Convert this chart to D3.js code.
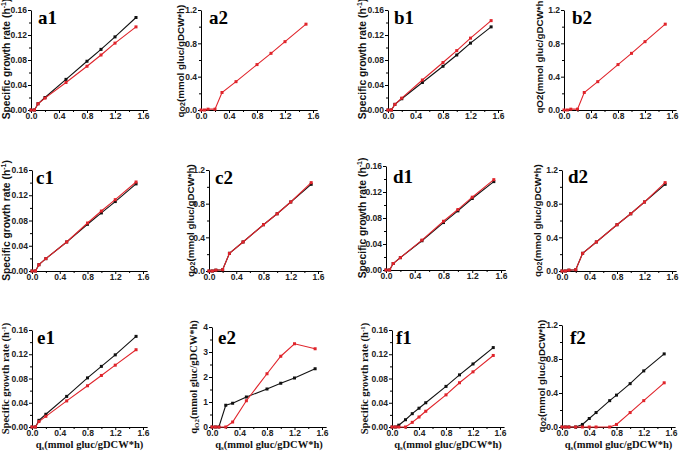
<!DOCTYPE html>
<html><head><meta charset="utf-8">
<script src="https://cdn.jsdelivr.net/npm/d3@7"></script>
<style>
body{margin:0;background:#fff;}
svg{display:block;}
</style></head>
<body>
<svg id="chart" width="685" height="456"></svg>
<script>
// ---------- data ----------
const xTicks = [0, 0.4, 0.8, 1.2, 1.6];
const muTicks = [0, 0.04, 0.08, 0.12, 0.16];
const qTicks = [0, 0.4, 0.8, 1.2];
const qTicksE2 = [0, 1, 2, 3, 4];

const xMu = [0, 0.05, 0.1, 0.2, 0.5, 0.8, 1.0, 1.2, 1.5];
const xQ = [0, 0.05, 0.1, 0.2, 0.3, 0.5, 0.8, 1.0, 1.2, 1.5];
const xF1 = [0, 0.05, 0.1, 0.2, 0.3, 0.4, 0.5, 0.8, 1.0, 1.2, 1.5];
const xF2 = [0, 0.05, 0.1, 0.2, 0.3, 0.4, 0.5, 0.7, 0.8, 1.0, 1.2, 1.5];

const a1Black = [0, 0, 0.010, 0.020, 0.049, 0.078, 0.097, 0.117, 0.148];
const a1Red   = [0, 0, 0.010, 0.019, 0.044, 0.070, 0.088, 0.107, 0.133];
const a2Red   = [0, 0, 0.01, 0.01, 0.21, 0.34, 0.545, 0.68, 0.82, 1.03];
const b1Black = [0, 0, 0.009, 0.018, 0.044, 0.070, 0.088, 0.107, 0.133];
const b1Red   = [0, 0, 0.009, 0.019, 0.048, 0.076, 0.095, 0.115, 0.143];
const b2Red   = [0, 0, 0.01, 0.01, 0.21, 0.34, 0.545, 0.68, 0.82, 1.03];
const c1Black = [0, 0, 0.010, 0.0196, 0.046, 0.074, 0.092, 0.110, 0.138];
const c1Red   = [0, 0, 0.010, 0.0196, 0.046, 0.076, 0.095, 0.113, 0.141];
const c2Black = [0, 0, 0.01, 0.015, 0.21, 0.345, 0.55, 0.68, 0.82, 1.03];
const c2Red   = [0, 0, 0.01, 0.015, 0.21, 0.345, 0.55, 0.68, 0.82, 1.05];
const d1Black = [0, 0, 0.010, 0.019, 0.045, 0.073, 0.091, 0.110, 0.136];
const d1Red   = [0, 0, 0.010, 0.019, 0.046, 0.075, 0.093, 0.112, 0.139];
const d2Black = [0, 0, 0.01, 0.015, 0.21, 0.345, 0.55, 0.68, 0.82, 1.03];
const d2Red   = [0, 0, 0.01, 0.015, 0.21, 0.345, 0.55, 0.68, 0.82, 1.05];
const e1Black = [0, 0, 0.011, 0.021, 0.0505, 0.081, 0.100, 0.119, 0.1495];
const e1Red   = [0, 0, 0.009, 0.0176, 0.043, 0.068, 0.085, 0.102, 0.1275];
const e2Black = [0, 0, 0, 0.87, 0.95, 1.2, 1.52, 1.75, 1.96, 2.33];
const e2Red   = [0, 0, 0, 0, 0.2, 1.05, 2.13, 2.83, 3.33, 3.13];
const f1Black = [0, 0, 0.003, 0.012, 0.022, 0.031, 0.040, 0.067, 0.086, 0.104, 0.131];
const f1Red   = [0, 0, 0, 0, 0.0077, 0.0165, 0.026, 0.053, 0.073, 0.091, 0.118];
const f2Black = [0, 0, 0, 0, 0.03, 0.10, 0.17, 0.31, 0.375, 0.51, 0.66, 0.86];
const f2Red   = [0, 0, 0, 0, 0, 0, 0, 0, 0.03, 0.17, 0.31, 0.52];

const labels = ["a1","a2","b1","b2","c1","c2","d1","d2","e1","e2","f1","f2"];

// ---------- layout ----------
const SANS = "'Liberation Sans', Arial, sans-serif";
const SERIF = "'Liberation Serif', 'Times New Roman', serif";
const BLACK = "#111", RED = "#e0242b";

const MU_LABEL = {main:"Specific growth rate (h", sup:"-1", tail:")"};
const Q_LABEL = {main:"q", sub:"O2", tail:"(mmol gluc/gDCW*h)"};
const Q_LABEL_B2 = {main:"qO2(mmol gluc/gDCW*h", tail:""};
const XS_LABEL = {main:"q", sub:"s", tail:"(mmol gluc/gDCW*h)"};

const panels = [
 {x0:31, x16:143, yt:10, yb:110, ymax:0.16, yt_:muTicks, fmt:".2f", xs:xMu, black:a1Black, red:a1Red, ylab:MU_LABEL, yoff:24, yfont:SANS, lx:38, ly:24, ycenter:59},
 {x0:201, x16:313, yt:10, yb:110, ymax:1.2, yt_:qTicks, fmt:".1f", xs:xQ, black:null, red:a2Red, ylab:Q_LABEL, yoff:20, yfont:SANS, lx:209, ly:24, ycenter:61},
 {x0:388, x16:498, yt:10, yb:110, ymax:0.16, yt_:muTicks, fmt:".2f", xs:xMu, black:b1Black, red:b1Red, ylab:MU_LABEL, yoff:25, yfont:SANS, lx:394, ly:24, ycenter:59},
 {x0:564, x16:672, yt:10, yb:110, ymax:1.2, yt_:qTicks, fmt:".1f", xs:xQ, black:null, red:b2Red, ylab:Q_LABEL_B2, yoff:24, yfont:SANS, lx:572, ly:24, ycenter:57},
 {x0:32, x16:143, yt:170, yb:271, ymax:0.16, yt_:muTicks, fmt:".2f", xs:xMu, black:c1Black, red:c1Red, ylab:MU_LABEL, yoff:25, yfont:SANS, lx:36, ly:184},
 {x0:209, x16:318, yt:170, yb:271, ymax:1.2, yt_:qTicks, fmt:".1f", xs:xQ, black:c2Black, red:c2Red, ylab:Q_LABEL, yoff:18, yfont:SANS, lx:215, ly:184},
 {x0:386, x16:501, yt:166, yb:270, ymax:0.16, yt_:muTicks, fmt:".2f", xs:xMu, black:d1Black, red:d1Red, ylab:MU_LABEL, yoff:23, yfont:SANS, lx:393, ly:183},
 {x0:562, x16:672, yt:170, yb:271, ymax:1.2, yt_:qTicks, fmt:".1f", xs:xQ, black:d2Black, red:d2Red, ylab:Q_LABEL, yoff:24, yfont:SANS, lx:568, ly:183},
 {x0:32, x16:143, yt:330, yb:427, ymax:0.16, yt_:muTicks, fmt:".2f", xs:xMu, black:e1Black, red:e1Red, ylab:MU_LABEL, yoff:25, yfont:SERIF, lx:37, ly:344, xlab:true},
 {x0:212, x16:322, yt:327, yb:427, ymax:4, yt_:qTicksE2, fmt:"d", xs:xQ, black:e2Black, red:e2Red, ylab:Q_LABEL, yoff:17, yfont:SERIF, lx:218, ly:344, xlab:true},
 {x0:392, x16:500, yt:330, yb:427, ymax:0.16, yt_:muTicks, fmt:".2f", xs:xF1, black:f1Black, red:f1Red, ylab:MU_LABEL, yoff:26, yfont:SERIF, lx:396, ly:344, xlab:true},
 {x0:562, x16:671, yt:325, yb:427, ymax:1.2, yt_:qTicks, fmt:".1f", xs:xF2, black:f2Black, red:f2Red, ylab:Q_LABEL, yoff:20, yfont:SANS, lx:570, ly:344, xlab:true}
];

const svg = d3.select("#chart");

function addLabel(t, lab, small) {
  t.append("tspan").text(lab.main);
  if (lab.sub) {
    t.append("tspan").text(lab.sub).attr("font-size", small).attr("dy", 2);
    t.append("tspan").text(lab.tail).attr("dy", -2);
  } else if (lab.sup) {
    t.append("tspan").text(lab.sup).attr("font-size", small).attr("dy", -3.5);
    t.append("tspan").text(lab.tail).attr("dy", 3.5);
  } else if (lab.tail) {
    t.append("tspan").text(lab.tail);
  }
}

panels.forEach((p, i) => {
  const x = d3.scaleLinear().domain([0, 1.6]).range([p.x0, p.x16]);
  const xEnd = x(1.66);
  const xa = d3.scaleLinear().domain([0, 1.66]).range([p.x0, xEnd]);
  const y = d3.scaleLinear().domain([0, p.ymax]).range([p.yb, p.yt]);
  const g = svg.append("g");

  // x axis
  const gx = g.append("g").attr("transform", `translate(0,${p.yb})`)
    .call(d3.axisBottom(xa).tickValues(xTicks).tickFormat(d3.format(".1f")).tickSize(3).tickSizeOuter(0).tickPadding(0));
  g.append("g").attr("transform", `translate(0,${p.yb})`)
    .call(d3.axisBottom(xa).tickValues(d3.range(0.2, 1.61, 0.4)).tickFormat("").tickSize(2).tickSizeOuter(0))
    .select(".domain").remove();
  // y axis
  const gy = g.append("g").attr("transform", `translate(${p.x0},0)`)
    .call(d3.axisLeft(y).tickValues(p.yt_).tickFormat(d3.format(p.fmt)).tickSize(3).tickSizeOuter(0).tickPadding(1));
  const step = p.yt_[1] - p.yt_[0];
  g.append("g").attr("transform", `translate(${p.x0},0)`)
    .call(d3.axisLeft(y).tickValues(p.yt_.slice(0, -1).map(v => v + step / 2)).tickFormat("").tickSize(2).tickSizeOuter(0))
    .select(".domain").remove();

  g.selectAll(".domain").attr("stroke", "#000").attr("stroke-width", 1);
  g.selectAll(".tick line").attr("stroke", "#000");
  [gx, gy].forEach(a => a.selectAll("text")
    .attr("font-family", SANS).attr("font-weight", "bold").attr("font-size", 8.5).attr("fill", "#222"));

  // series
  const line = d3.line().x((d) => x(d[0])).y((d) => y(d[1]));
  [[p.black, BLACK], [p.red, RED]].forEach(([vals, col]) => {
    if (!vals) return;
    const pts = p.xs.map((xv, k) => [xv, vals[k]]);
    g.append("path").datum(pts).attr("d", line).attr("fill", "none").attr("stroke", col).attr("stroke-width", 1.1);
    g.selectAll(null).data(pts).enter().append("rect")
      .attr("x", d => x(d[0]) - 1.5).attr("y", d => y(d[1]) - 1.5)
      .attr("width", 3).attr("height", 3).attr("fill", col);
  });

  // y label
  const yc = p.ycenter !== undefined ? p.ycenter : (p.yt + p.yb) / 2;
  const isSerif = p.yfont === SERIF;
  const isMu = p.ylab === MU_LABEL;
  const yl = g.append("text")
    .attr("transform", `translate(${p.x0 - p.yoff},${yc}) rotate(-90)`)
    .attr("text-anchor", "middle").attr("dominant-baseline", "middle")
    .attr("font-family", p.yfont).attr("font-weight", "bold")
    .attr("font-size", isSerif ? 10.5 : (isMu ? 10.3 : 9.8)).attr("fill", "#111");
  addLabel(yl, p.ylab, 7);

  // x label
  if (p.xlab) {
    const xl = g.append("text")
      .attr("x", (p.x0 + p.x16) / 2 + 2).attr("y", p.yb + 21)
      .attr("text-anchor", "middle")
      .attr("font-family", SERIF).attr("font-weight", "bold")
      .attr("font-size", 10.5).attr("fill", "#111");
    addLabel(xl, XS_LABEL, 7);
  }

  // panel label
  g.append("text").attr("x", p.lx).attr("y", p.ly).text(labels[i])
    .attr("font-family", SERIF).attr("font-weight", "bold").attr("font-size", 19).attr("fill", "#000");
});
</script>
</body></html>
